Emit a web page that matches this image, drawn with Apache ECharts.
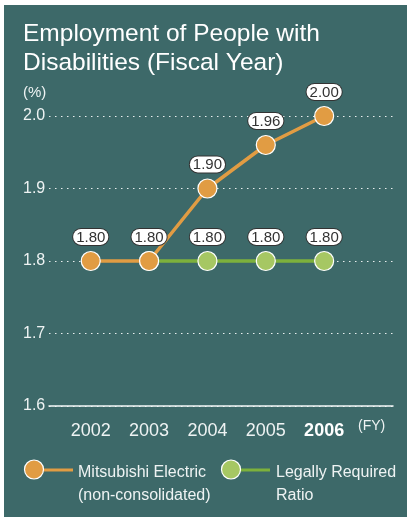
<!DOCTYPE html>
<html>
<head>
<meta charset="utf-8">
<script src="https://cdn.jsdelivr.net/npm/echarts@6/dist/echarts.min.js"></script>
<style>
  html, body { margin: 0; padding: 0; background: #fff; }
  #main { width: 407px; height: 517px; }
</style>
</head>
<body>
<div id="main"></div>
<script>
// data
var years = [2002, 2003, 2004, 2005, 2006];
var melco = [1.80, 1.80, 1.90, 1.96, 2.00];      // Mitsubishi Electric (non-consolidated)
var legal = [null, 1.80, 1.80, 1.80, 1.80];      // Legally required ratio
var yTicks = [1.6, 1.7, 1.8, 1.9, 2.0];

var FONT = '"Liberation Sans", Arial, Helvetica, sans-serif';
var BG = '#3d6969';
var TXT = '#eef3f3';
var ORANGE = '#e19c43';
var GREEN_DOT = '#a6c763';
var GREEN_LINE = '#7db13c';

function pairs(vals) {
    var out = [];
    for (var i = 0; i < years.length; i++) {
        if (vals[i] == null) continue;
        out.push([years[i], vals[i]]);
    }
    return out;
}

var labelBox = {
    show: true,
    position: 'top',
    distance: 6,
    formatter: function (p) { return p.value[1].toFixed(2); },
    backgroundColor: '#fff',
    borderColor: '#333',
    borderWidth: 1,
    borderRadius: 8,
    padding: [1, 3, 0, 3],
    color: '#333',
    fontFamily: FONT,
    fontSize: 15,
    lineHeight: 15
};

// green series: first point sits under the orange 2003 dot, so hide its label
var legalData = pairs(legal).map(function (d, i) {
    return i === 0 ? { value: d, label: { show: false } } : d;
});

var myChart = echarts.init(document.getElementById('main'));

var option = {
    backgroundColor: '#fff',
    animation: false,
    title: {
        text: 'Employment of People with\nDisabilities (Fiscal Year)',
        left: 23,
        top: 20,
        padding: 0,
        textStyle: { color: '#fff', fontFamily: FONT, fontSize: 24.5, fontWeight: 'normal', lineHeight: 29 }
    },
    grid: { left: 49, right: 14, top: 116, bottom: 111 },
    xAxis: {
        type: 'value',
        min: 2001.285,
        max: 2007.18,
        splitLine: { show: false },
        axisTick: { show: false },
        axisLine: { show: true, lineStyle: { color: '#f4f7f7', width: 1.5 } },
        axisLabel: {
            customValues: years,
            margin: 16,
            color: TXT,
            fontFamily: FONT,
            fontSize: 18,
            formatter: function (v) {
                return v === 2006 ? '{b|' + v + '}' : String(v);
            },
            rich: { b: { fontWeight: 'bold', fontSize: 18, color: '#fff', fontFamily: FONT } }
        }
    },
    yAxis: {
        type: 'value',
        min: 1.6,
        max: 2.0,
        interval: 0.1,
        axisLine: { show: false },
        axisTick: { show: false },
        axisLabel: {
            align: 'left',
            margin: 26,
            color: TXT,
            fontFamily: FONT,
            fontSize: 16,
            formatter: function (v) { return v.toFixed(1); }
        },
        splitLine: { lineStyle: { color: '#e8eeee', type: [1.5, 4.5], width: 1 } }
    },
    series: [
        {
            name: 'Legally Required Ratio',
            type: 'line',
            data: legalData,
            symbol: 'circle',
            symbolSize: 19,
            itemStyle: { color: GREEN_DOT, borderColor: '#fff', borderWidth: 1.2 },
            lineStyle: { color: GREEN_LINE, width: 3.5 },
            label: labelBox,
            z: 2
        },
        {
            name: 'Mitsubishi Electric (non-consolidated)',
            type: 'line',
            data: pairs(melco),
            symbol: 'circle',
            symbolSize: 19,
            itemStyle: { color: ORANGE, borderColor: '#fff', borderWidth: 1.2 },
            lineStyle: { color: ORANGE, width: 3.5 },
            label: labelBox,
            z: 3
        }
    ],
    graphic: [
        // panel
        { type: 'rect', left: 4, top: 5, z: -10, shape: { width: 403, height: 512 }, style: { fill: BG } },
        { type: 'text', left: 23, top: 85, style: { text: '(%)', fill: TXT, font: '15px ' + FONT } },
        { type: 'text', left: 358, top: 419, style: { text: '(FY)', fill: TXT, font: '14px ' + FONT } },
        // legend
        { type: 'line', shape: { x1: 40, y1: 470, x2: 73, y2: 470 }, style: { stroke: ORANGE, lineWidth: 3 } },
        { type: 'circle', shape: { cx: 34, cy: 469.5, r: 9.5 }, style: { fill: ORANGE, stroke: '#fff', lineWidth: 1.2 } },
        { type: 'text', left: 78, top: 461, style: { text: 'Mitsubishi Electric\n(non-consolidated)', fill: TXT, font: '16px ' + FONT, lineHeight: 23 } },
        { type: 'line', shape: { x1: 237, y1: 470, x2: 270, y2: 470 }, style: { stroke: GREEN_LINE, lineWidth: 3 } },
        { type: 'circle', shape: { cx: 231, cy: 469.5, r: 9.5 }, style: { fill: GREEN_DOT, stroke: '#fff', lineWidth: 1.2 } },
        { type: 'text', left: 276, top: 461, style: { text: 'Legally Required\nRatio', fill: TXT, font: '16px ' + FONT, lineHeight: 23 } }
    ]
};

myChart.setOption(option);
</script>
</body>
</html>
